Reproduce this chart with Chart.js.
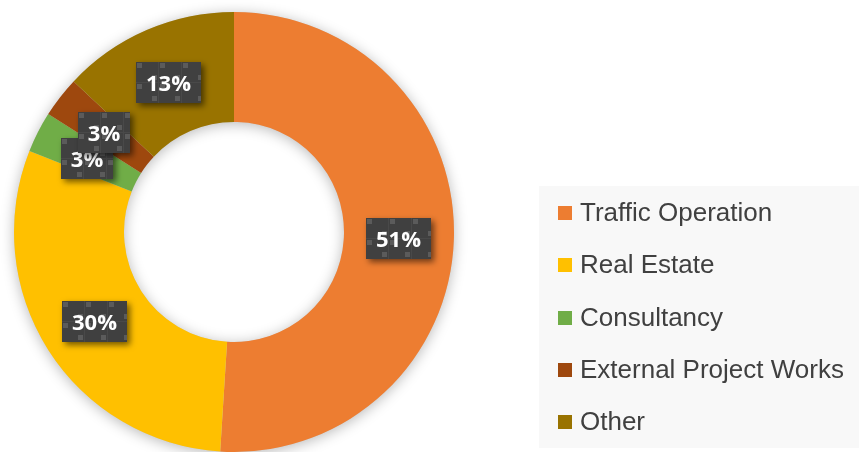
<!DOCTYPE html>
<html><head><meta charset="utf-8">
<script src="https://cdn.jsdelivr.net/npm/chart.js@4"></script>
<style>html,body{margin:0;padding:0;background:#fff;overflow:hidden}#wrap{width:859px;height:452px;position:relative}canvas{display:block}</style>
</head><body><div id="wrap"><canvas id="c" width="859" height="452"></canvas></div>
<script>
const categories = ['Traffic Operation', 'Real Estate', 'Consultancy', 'External Project Works', 'Other'];
const shares = [51, 30, 3, 3, 13];
const shareLabels = ['51%', '30%', '3%', '3%', '13%'];
const colors = ['#ED7D31', '#FFC000', '#70AD47', '#9E480E', '#997300'];

function makePattern(ctx) {
  const t = document.createElement('canvas');
  t.width = 23; t.height = 21;
  const g = t.getContext('2d');
  g.fillStyle = '#404040'; g.fillRect(0, 0, 23, 21);
  g.fillStyle = '#494949'; g.fillRect(22, 0, 1, 21); g.fillRect(0, 20, 23, 1);
  g.fillStyle = '#5b5b5b'; g.fillRect(1, 1, 5, 5); g.fillRect(16, 13, 5, 5);
  return ctx.createPattern(t, 'repeat');
}

const ringShadow = {
  id: 'ringShadow',
  beforeDatasetsDraw(chart) {
    const a = chart.getDatasetMeta(0).data[0];
    if (!a) return;
    const ctx = chart.ctx;
    ctx.save();
    ctx.beginPath();
    ctx.arc(a.x, a.y, a.outerRadius, 0, Math.PI * 2);
    ctx.arc(a.x, a.y, a.innerRadius, 0, Math.PI * 2, true);
    ctx.fillStyle = '#cccccc';
    ctx.shadowColor = 'rgba(0,0,0,0.28)';
    ctx.shadowBlur = 14;
    ctx.shadowOffsetY = 2;
    ctx.fill();
    ctx.restore();
  }
};

const boxLabels = {
  id: 'boxLabels',
  afterDatasetsDraw(chart) {
    const ctx = chart.ctx;
    const pat = makePattern(ctx);
    const meta = chart.getDatasetMeta(0);
    ctx.save();
    ctx.font = 'bold 22px "Open Sans"';
    meta.data.forEach((arc, i) => {
      const p = arc.tooltipPosition();
      const txt = shareLabels[i];
      const tw = ctx.measureText(txt).width;
      const w = Math.round(tw + 20), h = 41;
      const bx = Math.round(p.x - w / 2), by = Math.round(p.y + 1.5 - h / 2);
      ctx.save();
      ctx.translate(bx, by);
      ctx.shadowColor = 'rgba(0,0,0,0.55)';
      ctx.shadowBlur = 6;
      ctx.shadowOffsetX = 3;
      ctx.shadowOffsetY = 3;
      ctx.fillStyle = pat;
      ctx.fillRect(0, 0, w, h);
      ctx.restore();
      ctx.fillStyle = '#ffffff';
      ctx.textAlign = 'center';
      ctx.textBaseline = 'alphabetic';
      ctx.fillText(txt, bx + w / 2, by + h / 2 + 8.5);
    });
    ctx.restore();
  }
};

const boxLegend = {
  id: 'boxLegend',
  afterDraw(chart) {
    const ctx = chart.ctx;
    ctx.save();
    ctx.fillStyle = '#f8f8f8';
    ctx.fillRect(539, 186, 320, 262);
    ctx.font = '26px "Liberation Sans", Arial, sans-serif';
    ctx.textBaseline = 'alphabetic';
    ctx.textAlign = 'left';
    categories.forEach((c, i) => {
      const y0 = 206 + i * 52.25;
      ctx.fillStyle = colors[i];
      ctx.fillRect(558, Math.round(y0), 14, 14);
      ctx.fillStyle = '#404040';
      ctx.fillText(c, 580, Math.round(y0 + 15));
    });
    ctx.restore();
  }
};

new Chart(document.getElementById('c'), {
  type: 'doughnut',
  data: {
    labels: categories,
    datasets: [{
      data: shares,
      backgroundColor: colors,
      borderWidth: 0
    }]
  },
  options: {
    responsive: false,
    animation: false,
    cutout: '50%',
    layout: { padding: { left: 13, top: 12, right: 404, bottom: -2 } },
    plugins: { legend: { display: false }, tooltip: { enabled: false } }
  },
  plugins: [ringShadow, boxLabels, boxLegend]
});
</script>
</body></html>
